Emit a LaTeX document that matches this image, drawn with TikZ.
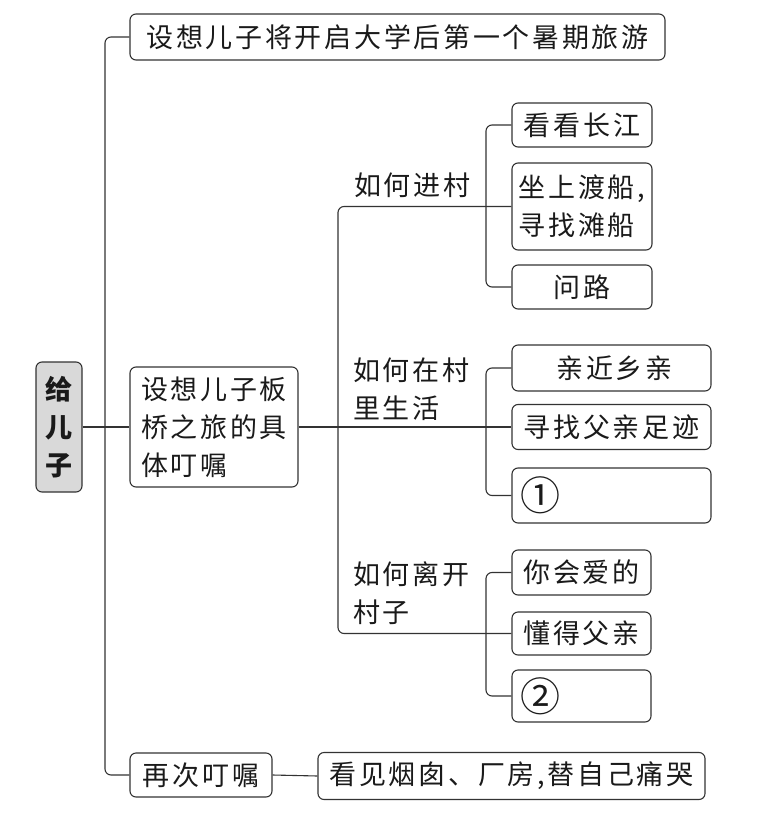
\documentclass[tikz,border=0pt]{standalone}
\usepackage{fontspec}
\newfontfamily\cjk[LetterSpace=10]{Noto Sans CJK SC}
\definecolor{ln}{HTML}{333333}
\definecolor{tx}{HTML}{1A1A1A}
\definecolor{rootfill}{HTML}{D9D9D9}
\begin{document}
\begin{tikzpicture}[x=1pt,y=-1pt,
  every node/.style={font=\cjk\fontsize{27}{38}\selectfont, text=tx},
  box/.style={draw=ln, line width=1.1pt, rounded corners=6pt, inner sep=0pt},
  conn/.style={draw=ln, line width=1.1pt, rounded corners=6pt},
  lbl/.style={anchor=west, align=left, inner sep=0pt},
  circ/.style={font=\cjk\fontsize{40}{42}\selectfont}]
\useasboundingbox (0,0) rectangle (759,826);
% root
\node[box, fill=rootfill, minimum width=46, minimum height=130, align=center, font=\cjk\bfseries\fontsize{27}{38}\selectfont] (root) at (59,427) {给\\儿\\子};
% level 1
\node[box, minimum width=535, minimum height=46] (top) at (397.5,37) {设想儿子将开启大学后第一个暑期旅游};
\node[box, minimum width=168, minimum height=120, align=left] (mid) at (214,427) {设想儿子板\\桥之旅的具\\体叮嘱};
\node[box, minimum width=142, minimum height=44] (again) at (201,775) {再次叮嘱};
\node[box, minimum width=387, minimum height=47] (see) at (511.5,776) {看见烟囱、厂房,替自己痛哭};
% labels
\node[lbl] (l1) at (354,185) {如何进村};
\node[lbl] (l2) at (353,389) {如何在村\\里生活};
\node[lbl] (l3) at (353,593) {如何离开\\村子};
% group 1
\node[box, minimum width=140, minimum height=44] (b11) at (582,125) {看看长江};
\node[box, minimum width=140, minimum height=87, align=left] (b12) at (582,206.5) {坐上渡船,\\寻找滩船};
\node[box, minimum width=140, minimum height=44] (b13) at (582,287) {问路};
% group 2
\node[box, minimum width=199, minimum height=46] (b21) at (611.5,368) {\hspace{6pt}亲近乡亲};
\node[box, minimum width=199, minimum height=45] (b22) at (611.5,427) {寻找父亲足迹};
\node[box, circ, minimum width=199, minimum height=55, text width=183, align=left] (b23) at (611.5,495.5) {①};
% group 3
\node[box, minimum width=139, minimum height=45] (b31) at (581.5,572.5) {你会爱的};
\node[box, minimum width=139, minimum height=43] (b32) at (581.5,633.5) {懂得父亲};
\node[box, circ, minimum width=139, minimum height=52, text width=123, align=left] (b33) at (581.5,696) {②};
% connectors
\coordinate (t0) at (105,427);
\coordinate (t1) at (338,427);
\coordinate (s1) at (486,206);
\coordinate (s2) at (486,427);
\coordinate (s3) at (486,633);
\draw[conn] (top.west) -| (t0) |- (again.west);
\draw[conn] (root.east) -- (mid.west);
\draw[conn] (mid.east) -- (b22.west);
\draw[conn] (b12.west) -| (t1) |- (b32.west);
\draw[conn] (b11.west) -| (s1) |- (b13.west);
\draw[conn] (b21.west) -| (s2) |- (b23.west);
\draw[conn] (b31.west) -| (s3) |- (b33.west);
\draw[conn] (again.east) -- (see.west);
\end{tikzpicture}
\end{document}
